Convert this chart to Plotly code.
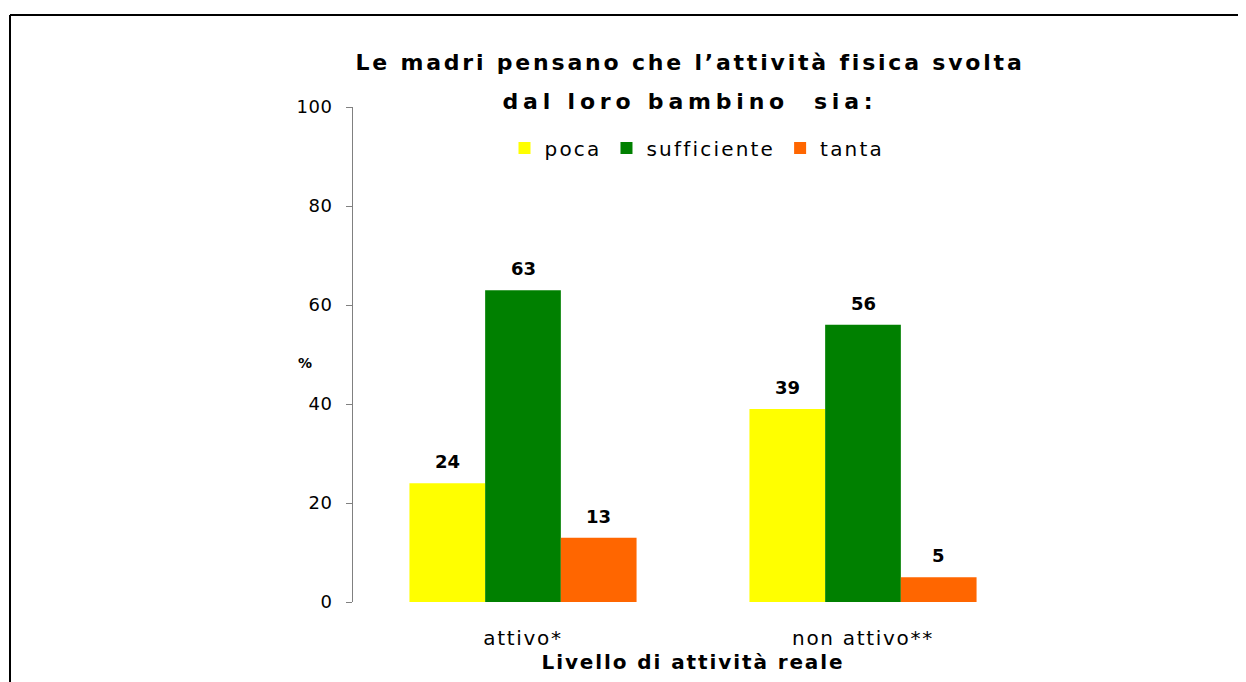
import plotly.graph_objects as go

# ---- data ----
categories = ["attivo*", "non attivo**"]
series_names = ["poca", "sufficiente", "tanta"]
poca = [24, 39]
sufficiente = [63, 56]
tanta = [13, 5]
y_ticks = [0, 20, 40, 60, 80, 100]

title_lines = ["Le madri pensano che l\u2019attività fisica svolta", "dal loro bambino  sia:"]
x_title = "Livello di attività reale"
y_title = "%"

colors = ["#FFFF00", "#008000", "#FF6600"]
FONT = "DejaVu Sans, Liberation Sans, Arial, sans-serif"
BARGAP = 0.332

# page offset of the figure (body margin) in px
OFF = 8


def sp(text, px, size=None):
    st = f"letter-spacing:{px}px"
    if size:
        st += f";font-size:{size}px"
    return f"<span style='{st}'>{text}</span>"


series = [poca, sufficiente, tanta]
fig = go.Figure()
for name, vals, col in zip(series_names, series, colors):
    fig.add_trace(go.Bar(
        x=categories, y=vals, name=sp(name, 2.2),
        marker=dict(color=col, line=dict(width=0)),
    ))

# value labels above bars
n = len(series)
bar_w = (1 - BARGAP) / n
for j, vals in enumerate(series):
    for i, v in enumerate(vals):
        fig.add_annotation(
            x=i + (j - (n - 1) / 2) * bar_w, y=v, xref="x", yref="y",
            text="<b>" + str(v) + "</b>", showarrow=False,
            yanchor="bottom", yshift=9,
            font=dict(family=FONT, size=18, color="black"),
        )

# y axis title "%"
fig.add_annotation(
    x=(295.5 - 353) / 680, y=(602 - 362.5) / 495, xref="paper", yref="paper",
    text="<b>" + y_title + "</b>", showarrow=False,
    font=dict(family=FONT, size=14, color="black"),
)

# outer frame (left and top edges)
xl = (10 - 353) / 680
xr = (1260 - 353) / 680
yt = (602 - 15) / 495
yb = (602 - 700) / 495
fig.add_shape(type="line", xref="paper", yref="paper", x0=xl, x1=xl, y0=yb, y1=yt,
              line=dict(color="black", width=2))
fig.add_shape(type="line", xref="paper", yref="paper", x0=xl, x1=xr, y0=yt, y1=yt,
              line=dict(color="black", width=2))

fig.update_layout(
    width=1246, height=682,
    margin=dict(l=353 - OFF, r=1246 - (1033 - OFF), t=107 - OFF, b=682 - (602 - OFF)),
    paper_bgcolor="white", plot_bgcolor="white",
    font=dict(family=FONT, color="black"),
    barmode="group", bargap=BARGAP, bargroupgap=0,
    title=dict(
        text="<b>" + sp(title_lines[0], 2.8, 22) + "<br>" + sp(title_lines[1], 4.8, 22) + "</b>",
        x=(690 - OFF) / 1246, xanchor="center", xref="container",
        y=1 - 62 / 682, yanchor="top", yref="container",
        font=dict(family=FONT, size=30, color="black"),
    ),
    legend=dict(
        orientation="h", x=(697 - 353) / 680, xanchor="center",
        y=(602 - 148) / 495, yanchor="middle",
        font=dict(family=FONT, size=20, color="black"),
        bgcolor="rgba(0,0,0,0)", traceorder="normal",
    ),
    xaxis=dict(
        type="category", range=[-0.5, 1.5],
        tickvals=categories, ticktext=[sp(c, 1.7) for c in categories],
        showline=False, showgrid=False, zeroline=False, ticks="",
        tickfont=dict(family=FONT, size=20, color="black"),
        ticklabelstandoff=22,
        title=dict(text="<b>" + sp(x_title, 1.9) + "</b>", standoff=0,
                   font=dict(family=FONT, size=20, color="black")),
    ),
    yaxis=dict(
        range=[0, 100], tickvals=y_ticks, ticktext=[sp(str(t), 0.5) for t in y_ticks],
        showline=True, linecolor="#808080", linewidth=1,
        ticks="outside", ticklen=6, tickcolor="#808080", tickwidth=1,
        showgrid=False, zeroline=False,
        tickfont=dict(family=FONT, size=18, color="black"),
        ticklabelstandoff=10,
    ),
    showlegend=True,
)

fig.write_html("out.html")
